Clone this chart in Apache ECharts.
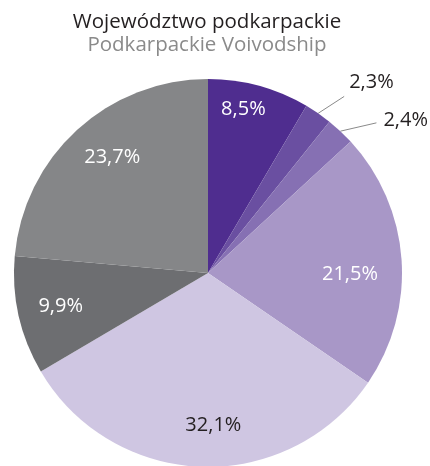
<!DOCTYPE html>
<html>
<head>
<meta charset="utf-8">
<script src="https://cdn.jsdelivr.net/npm/echarts@6/dist/echarts.min.js"></script>
<style>
  html, body { margin: 0; padding: 0; background: #ffffff; }
  #chart { width: 430px; height: 466px; }
</style>
</head>
<body>
<div id="chart"></div>
<script>
// ---- data ----
const titleText = 'Województwo podkarpackie';
const subtitleText = 'Podkarpackie Voivodship';
const categories = ['A', 'B', 'C', 'D', 'E', 'F', 'G'];
const values = [8.5, 2.3, 2.4, 21.5, 32.1, 9.9, 23.7];

// ---- style ----
const colors = ['#4f2d8f', '#6a4fa1', '#8670b3', '#a897c7', '#cfc6e2', '#6d6e71', '#858688'];
const labelColors = ['#ffffff', '#231f20', '#231f20', '#ffffff', '#231f20', '#ffffff', '#ffffff'];
const outsideIdx = [1, 2];
// radius (px) and angular nudge (deg) at which inside labels sit
const labelRadius = [167, null, null, 142, 152, 151, 150];
const labelNudge = [-3, 0, 0, 4.5, -4, 0, 2.8];
// outside label line: angle above horizontal (deg), length, label offset
const outLine = {
  1: { ang: 33, len: 31, dx: 5, dy: -14 },
  2: { ang: 13, len: 37, dx: 7, dy: -3 }
};
const CX = 208, CY = 273, R = 194;
const FONT = 'Open Sans';

function fmt(v) { return v.toFixed(1).replace('.', ',') + '%'; }

const data = values.map(function (v, i) {
  const outside = outsideIdx.indexOf(i) >= 0;
  return {
    name: categories[i],
    value: v,
    itemStyle: { color: colors[i] },
    label: {
      show: true,
      position: outside ? 'outside' : 'inside',
      color: labelColors[i],
      formatter: fmt(v)
    },
    labelLine: {
      show: outside,
      lineStyle: { color: '#8a8a8a', width: 1 }
    }
  };
});

const chart = echarts.init(document.getElementById('chart'), null, { renderer: 'canvas' });
chart.setOption({
  animation: false,
  backgroundColor: '#ffffff',
  title: {
    text: titleText,
    subtext: subtitleText,
    left: 207,
    top: 7,
    textAlign: 'center',
    padding: [5, 0, 5, 0],
    itemGap: 2,
    textStyle: { fontFamily: FONT, fontSize: 20.5, fontWeight: 'normal', color: '#231f20' },
    subtextStyle: { fontFamily: FONT, fontSize: 20.5, color: '#8a8a8a' }
  },
  series: [{
    type: 'pie',
    center: [CX, CY],
    radius: [0, R],
    startAngle: 90,
    clockwise: true,
    avoidLabelOverlap: false,
    itemStyle: { borderWidth: 0 },
    label: { fontFamily: FONT, fontSize: 20 },
    labelLine: { length: 20, length2: 10 },
    emphasis: { disabled: true },
    data: data,
    labelLayout: function (p) {
      const i = p.dataIndex;
      if (outLine[i] && p.labelLinePoints) {
        const a = p.labelLinePoints[0];
        const s = outLine[i];
        const rad = s.ang * Math.PI / 180;
        const ex = a[0] + s.len * Math.cos(rad);
        const ey = a[1] - s.len * Math.sin(rad);
        return {
          x: ex + s.dx, y: ey + s.dy,
          align: 'left', verticalAlign: 'middle',
          labelLinePoints: [[a[0], a[1]], [ex, ey], [ex, ey]]
        };
      }
      const r = p.labelRect;
      const lx = r.x + r.width / 2, ly = r.y + r.height / 2;
      const ang = Math.atan2(ly - CY, lx - CX) + labelNudge[i] * Math.PI / 180;
      return {
        x: CX + labelRadius[i] * Math.cos(ang),
        y: CY + labelRadius[i] * Math.sin(ang),
        align: 'center', verticalAlign: 'middle'
      };
    }
  }]
});
</script>
</body>
</html>
